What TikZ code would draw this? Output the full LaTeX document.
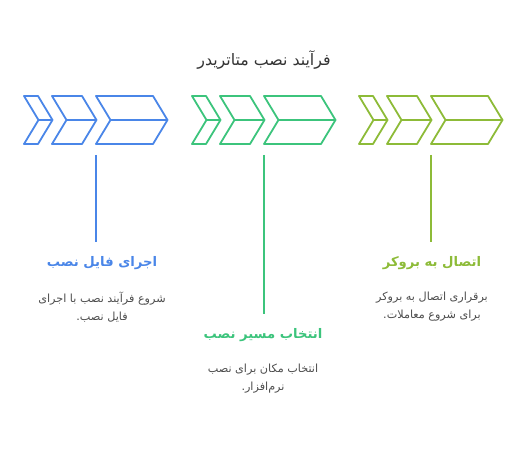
\documentclass[tikz,border=0pt]{standalone}
\usepackage{fontspec}
\usepackage{tikz}
\usetikzlibrary{positioning, calc}
\newfontfamily\arabicfont[Script=Arabic]{DejaVu Sans}
\TeXXeTstate=1
\definecolor{stepblue}{HTML}{4A86E8}
\definecolor{stepgreen}{HTML}{3CC47C}
\definecolor{stepolive}{HTML}{8DBB38}
\definecolor{desctext}{HTML}{4D4D4D}
\newcommand{\chev}[3]{\draw[#3] (#1,96)--({#1+#2},96)--({#1+#2+14.5},120)--({#1+#2},144)--(#1,144)--({#1+14.5},120)--cycle ({#1+14.5},120)--({#1+#2+14.5},120);}
\newcommand{\chevgroup}[2]{\chev{#1}{14}{#2}\chev{#1+28}{30}{#2}\chev{#1+72}{57}{#2}}

\begin{document}
\begin{tikzpicture}[x=1pt, y=-1pt, line width=1.8pt, line join=round,
  steptitle/.style={font=\arabicfont\bfseries\fontsize{13.2}{15}\selectfont, inner sep=0pt},
  stepdesc/.style={font=\arabicfont\fontsize{11.2}{18}\selectfont, text=desctext, align=center, inner sep=0pt}]
\useasboundingbox (0,0) rectangle (528,454);
\node[font=\arabicfont\fontsize{15.8}{18}\selectfont, text=black!80] (title) at (264,60) {\beginR فرآیند نصب متاتریدر\endR};

\chevgroup{24}{stepblue}
\chevgroup{192}{stepgreen}
\chevgroup{359}{stepolive}

\coordinate (c1) at (96,155);
\coordinate (c2) at (264,155);
\coordinate (c3) at (431,155);

\node[steptitle, text=stepblue] (t1) at (102,263) {\beginR اجرای فایل نصب\endR};
\node[steptitle, text=stepgreen] (t2) at (263,335) {\beginR انتخاب مسیر نصب\endR};
\node[steptitle, text=stepolive] (t3) at (432,263) {\beginR اتصال به بروکر\endR};

\node[stepdesc, below=20.5pt of t1] (d1) {\beginR شروع فرآیند نصب با اجرای\endR\\\beginR فایل نصب.\endR};
\node[stepdesc, below=20.5pt of t2] (d2) {\beginR انتخاب مکان برای نصب\endR\\\beginR نرم‌افزار.\endR};
\node[stepdesc, below=20.5pt of t3] (d3) {\beginR برقراری اتصال به بروکر\endR\\\beginR برای شروع معاملات.\endR};

\draw[stepblue, shorten >=13pt] (c1)--(c1 |- t1.north);
\draw[stepgreen, shorten >=13pt] (c2)--(c2 |- t2.north);
\draw[stepolive, shorten >=13pt] (c3)--(c3 |- t3.north);
\end{tikzpicture}
\end{document}
